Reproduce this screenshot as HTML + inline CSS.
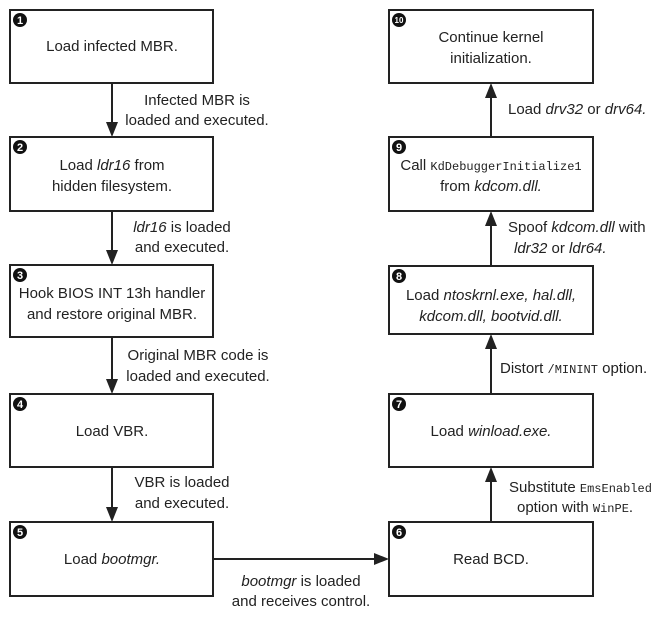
<!DOCTYPE html>
<html><head><meta charset="utf-8"><style>
body{margin:0;background:#fff}
svg text{font-family:"Liberation Sans",sans-serif;font-size:15px;fill:#222}
.m{font-family:"Liberation Mono",monospace;font-size:12px}
.n{font-family:"Liberation Sans",sans-serif;font-size:11px;fill:#fff;font-weight:bold}
</style></head><body>
<svg width="668" height="625" viewBox="0 0 668 625" xmlns="http://www.w3.org/2000/svg">
<g fill="none" stroke="#222" stroke-width="2">
<rect x="10" y="10" width="203" height="73"/>
<rect x="10" y="137" width="203" height="74"/>
<rect x="10" y="265" width="203" height="72"/>
<rect x="10" y="394" width="203" height="73"/>
<rect x="10" y="522" width="203" height="74"/>
<rect x="389" y="10" width="204" height="73"/>
<rect x="389" y="137" width="204" height="74"/>
<rect x="389" y="266" width="204" height="68"/>
<rect x="389" y="394" width="204" height="73"/>
<rect x="389" y="522" width="204" height="74"/>
</g>
<g stroke="#222" stroke-width="2">
<line x1="112" y1="83" x2="112" y2="124"/><path d="M106,122 L118,122 L112,137z" fill="#222" stroke="none"/>
<line x1="112" y1="211" x2="112" y2="252"/><path d="M106,250 L118,250 L112,265z" fill="#222" stroke="none"/>
<line x1="112" y1="337" x2="112" y2="381"/><path d="M106,379 L118,379 L112,394z" fill="#222" stroke="none"/>
<line x1="112" y1="467" x2="112" y2="509"/><path d="M106,507 L118,507 L112,522z" fill="#222" stroke="none"/>
<line x1="213" y1="559" x2="376" y2="559"/><path d="M374,553 L374,565 L389,559z" fill="#222" stroke="none"/>
<line x1="491" y1="522" x2="491" y2="480"/><path d="M485,482 L497,482 L491,467z" fill="#222" stroke="none"/>
<line x1="491" y1="394" x2="491" y2="347"/><path d="M485,349 L497,349 L491,334z" fill="#222" stroke="none"/>
<line x1="491" y1="266" x2="491" y2="224"/><path d="M485,226 L497,226 L491,211z" fill="#222" stroke="none"/>
<line x1="491" y1="137" x2="491" y2="96"/><path d="M485,98 L497,98 L491,83z" fill="#222" stroke="none"/>
</g>
<g fill="#111">
<circle cx="20" cy="20" r="7"/><circle cx="20" cy="147" r="7"/><circle cx="20" cy="275" r="7"/><circle cx="20" cy="404" r="7"/><circle cx="20" cy="532" r="7"/>
<circle cx="399" cy="20" r="7"/><circle cx="399" cy="147" r="7"/><circle cx="399" cy="276" r="7"/><circle cx="399" cy="404" r="7"/><circle cx="399" cy="532" r="7"/>
</g>
<g text-anchor="middle">
<text class="n" x="20" y="24">1</text><text class="n" x="20" y="151">2</text><text class="n" x="20" y="279">3</text><text class="n" x="20" y="408">4</text><text class="n" x="20" y="536">5</text>
<text class="n" x="399" y="23" style="font-size:8px">10</text><text class="n" x="399" y="151">9</text><text class="n" x="399" y="280">8</text><text class="n" x="399" y="408">7</text><text class="n" x="399" y="536">6</text>

<text x="112" y="51">Load infected MBR.</text>
<text x="112" y="170">Load <tspan font-style="italic">ldr16</tspan> from</text>
<text x="112" y="191">hidden filesystem.</text>
<text x="112" y="298">Hook BIOS INT 13h handler</text>
<text x="112" y="319">and restore original MBR.</text>
<text x="112" y="436">Load VBR.</text>
<text x="112" y="564">Load <tspan font-style="italic">bootmgr.</tspan></text>

<text x="491" y="42">Continue kernel</text>
<text x="491" y="63">initialization.</text>
<text x="491" y="170">Call <tspan class="m">KdDebuggerInitialize1</tspan></text>
<text x="491" y="191">from <tspan font-style="italic">kdcom.dll.</tspan></text>
<text x="491" y="300">Load <tspan font-style="italic">ntoskrnl.exe, hal.dll,</tspan></text>
<text x="491" y="321" font-style="italic">kdcom.dll, bootvid.dll.</text>
<text x="491" y="436">Load <tspan font-style="italic">winload.exe.</tspan></text>
<text x="491" y="564">Read BCD.</text>

<text x="197" y="105">Infected MBR is</text>
<text x="197" y="125">loaded and executed.</text>
<text x="182" y="232"><tspan font-style="italic">ldr16</tspan> is loaded</text>
<text x="182" y="252">and executed.</text>
<text x="198" y="360">Original MBR code is</text>
<text x="198" y="381">loaded and executed.</text>
<text x="182" y="487">VBR is loaded</text>
<text x="182" y="508">and executed.</text>
<text x="301" y="586"><tspan font-style="italic">bootmgr</tspan> is loaded</text>
<text x="301" y="606">and receives control.</text>
</g>
<g>
<text x="508" y="114">Load <tspan font-style="italic">drv32</tspan> or <tspan font-style="italic">drv64.</tspan></text>
<text x="508" y="232">Spoof <tspan font-style="italic">kdcom.dll</tspan> with</text>
<text x="514" y="253"><tspan font-style="italic">ldr32</tspan> or <tspan font-style="italic">ldr64.</tspan></text>
<text x="500" y="373">Distort <tspan class="m">/MININT</tspan> option.</text>
<text x="509" y="492">Substitute <tspan class="m">EmsEnabled</tspan></text>
<text x="517" y="512">option with <tspan class="m">WinPE</tspan>.</text>
</g>
</svg>
</body></html>
